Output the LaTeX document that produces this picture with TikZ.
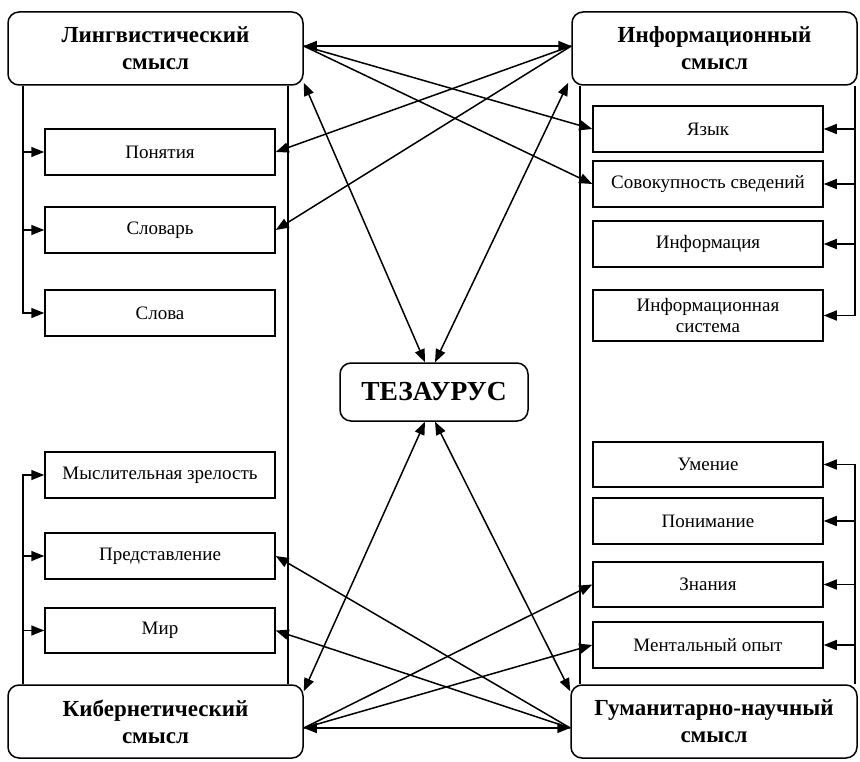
\documentclass[tikz,border=0pt]{standalone}
\usepackage{fontspec}
\setmainfont{Liberation Serif}
\usetikzlibrary{arrows.meta}
\begin{document}
\begin{tikzpicture}[x=1pt,y=-1pt,
  line width=1.5pt,
  arr/.style={-{Triangle[length=13pt,width=10pt]}},
  darr/.style={{Triangle[length=13pt,width=10pt]}-{Triangle[length=13pt,width=10pt]}},
  bigbox/.style={draw,rounded corners=11pt,minimum height=73pt,align=center,inner sep=2pt,
    font=\bfseries\fontsize{23}{27}\selectfont},
  subbox/.style={draw,minimum width=230pt,minimum height=46pt,align=center,inner sep=2pt,
    font=\fontsize{19}{21}\selectfont},
  thzbox/.style={draw,rounded corners=11pt,minimum width=188pt,minimum height=58pt,
    font=\bfseries\fontsize{27.5}{30}\selectfont}]
\useasboundingbox (0,0) rectangle (860,762);
% main boxes
\node[bigbox,minimum width=295pt] (tl) at (155.5,48.5) {Лингвистический\\смысл};
\node[bigbox,minimum width=285pt] (tr) at (714.5,48.5) {Информационный\\смысл};
\node[bigbox,minimum width=295pt] (bl) at (155.5,721.5) {Кибернетический\\смысл};
\node[bigbox,minimum width=286pt] (br) at (714,721.5) {Гуманитарно-научный\\смысл};
\node[thzbox] (thz) at (434,392) {ТЕЗАУРУС};
% left sub boxes
\node[subbox] (pon) at (160,152) {Понятия};
\node[subbox] (slovar) at (160,230) {Словарь};
\node[subbox] (slova) at (160,313) {Слова};
\node[subbox] (mysl) at (160,475) {Мыслительная зрелость};
\node[subbox] (pred) at (160,556) {Представление};
\node[subbox,minimum height=45pt] (mir) at (160,630.5) {Мир};
% right sub boxes
\node[subbox] (yaz) at (708,129) {Язык};
\node[subbox] (sov) at (708,184) {Совокупность сведений};
\node[subbox] (inf) at (708,244) {Информация};
\node[subbox,minimum height=51pt] (infs) at (708,315.5) {Информационная\\система};
\node[subbox,minimum height=45pt] (um) at (708,464.5) {Умение};
\node[subbox] (ponim) at (708,521) {Понимание};
\node[subbox,minimum height=45pt] (zn) at (708,584.5) {Знания};
\node[subbox] (ment) at (708,645) {Ментальный опыт};
% frame coordinates
\coordinate (lx) at (23,0);
\coordinate (lx2) at (288,0);
\coordinate (rx) at (855,0);
\coordinate (rx2) at (580,0);
% left frames
\draw[arr] (tl.south -| lx) |- (slova.west);
\draw[arr] (pon.west -| lx) -- (pon.west);
\draw[arr] (slovar.west -| lx) -- (slovar.west);
\draw (tl.south -| lx2) -- (bl.north -| lx2);
\draw[arr] (bl.north -| lx) |- (mysl.west);
\draw[arr] (pred.west -| lx) -- (pred.west);
\draw[arr] (mir.west -| lx) -- (mir.west);
% right frames
\draw[arr] (tr.south -| rx) |- (infs.east);
\draw[arr] (yaz.east -| rx) -- (yaz.east);
\draw[arr] (sov.east -| rx) -- (sov.east);
\draw[arr] (inf.east -| rx) -- (inf.east);
\draw (tr.south -| rx2) -- (br.north -| rx2);
\draw[arr] (br.north -| rx) |- (um.east);
\draw[arr] (ponim.east -| rx) -- (ponim.east);
\draw[arr] (zn.east -| rx) -- (zn.east);
\draw[arr] (ment.east -| rx) -- (ment.east);
% top connections
\draw[darr] ([yshift=2.5pt]tl.east) -- ([yshift=2.5pt]tr.west);
\draw[arr] ([yshift=2.5pt]tl.east) -- (yaz.west);
\draw[arr] ([yshift=2.5pt]tl.east) -- (sov.west);
\draw[arr] ([yshift=2.5pt]tr.west) -- (pon.east);
\draw[arr] ([yshift=2.5pt]tr.west) -- (slovar.east);
% bottom connections
\draw[darr] ([yshift=-6.5pt]bl.east) -- ([yshift=-6.5pt]br.west);
\draw[arr] ([yshift=-6.5pt]bl.east) -- (zn.west);
\draw[arr] ([yshift=-6.5pt]bl.east) -- (ment.west);
\draw[arr] ([yshift=-6.5pt]br.west) -- (pred.east);
\draw[arr] ([yshift=-6.5pt]br.west) -- (mir.east);
% thesaurus connections
\draw[darr] ([yshift=3pt]tl.south east) -- ([xshift=-9pt]thz.north);
\draw[darr] ([yshift=3pt,xshift=-3pt]tr.south west) -- ([xshift=1pt]thz.north);
\draw[darr] ([yshift=-7pt]bl.north east) -- ([xshift=-9pt]thz.south);
\draw[darr] ([yshift=-7pt]br.north west) -- ([xshift=1pt]thz.south);
\end{tikzpicture}
\end{document}
